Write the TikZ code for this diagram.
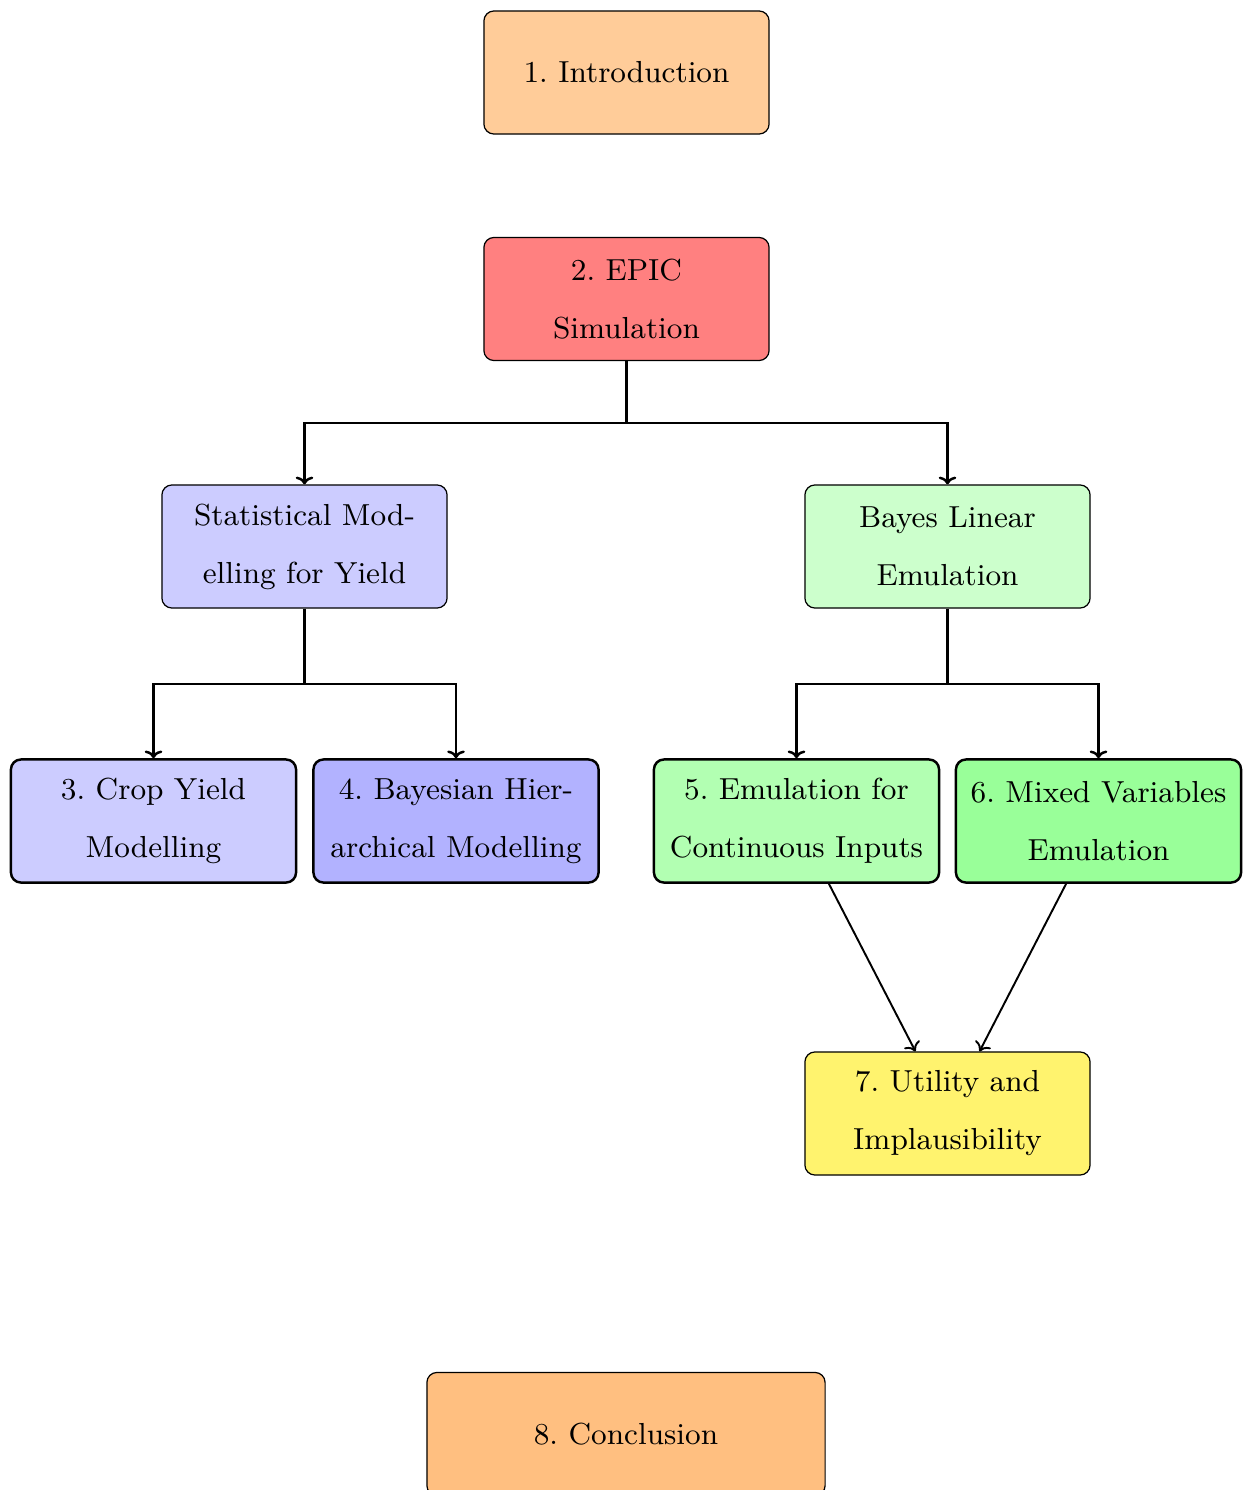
\documentclass[tikz,border=0pt]{standalone}
\usetikzlibrary{arrows.meta}
\definecolor{utilyellow}{RGB}{255,243,110}
\begin{document}
\frenchspacing
\begin{tikzpicture}[x=0.01cm,y=0.01cm,
  box/.style={draw, rounded corners=0.1cm, minimum width=2.85cm, minimum height=1.23cm,
    align=center, inner sep=2pt, font=\fontsize{8.65}{16.5}\selectfont\frenchspacing, line width=0.35pt},
  boxthick/.style={box, line width=0.7pt},
  conn/.style={line width=0.7pt, -{To[length=2.2pt,width=5pt]}},
  connthin/.style={line width=0.55pt, -{To[length=2.4pt,width=5pt]}}]
\useasboundingbox (0,0) rectangle (1248,-1490);
\node[box, fill=orange!40] (n1) at (626.5,-72.5) {1. Introduction};
\node[box, fill=red!50] (n2) at (626.5,-299) {2. EPIC\\Simulation};
\node[box, fill=blue!20] (stat) at (304.5,-546.5) {Statistical Mod-\\elling for Yield};
\node[box, fill=green!20] (bayes) at (947.5,-546.5) {Bayes Linear\\Emulation};
\node[boxthick, fill=blue!20] (n3) at (153.5,-821) {3. Crop Yield\\Modelling};
\node[boxthick, fill=blue!30] (n4) at (456,-821) {4. Bayesian Hier-\\archical Modelling};
\node[boxthick, fill=green!30] (n5) at (796.5,-821) {5. Emulation for\\Continuous Inputs};
\node[boxthick, fill=green!40] (n6) at (1098.5,-821) {6. Mixed Variables\\Emulation};
\node[box, fill=utilyellow] (n7) at (947.5,-1113.5) {7. Utility and\\Implausibility};
\node[box, fill=orange!50, minimum width=3.98cm] (n8) at (626,-1434) {8. Conclusion};
\coordinate (j1) at (626.5,-423);
\coordinate (j2) at (304.5,-684);
\coordinate (j3) at (947.5,-684);
\draw[line width=0.7pt] (n2.south) -- (j1);
\draw[conn] (j1) -| (stat.north);
\draw[conn] (j1) -| (bayes.north);
\draw[line width=0.7pt] (stat.south) -- (j2);
\draw[conn] (j2) -| (n3.north);
\draw[conn] (j2) -| (n4.north);
\draw[line width=0.7pt] (bayes.south) -- (j3);
\draw[conn] (j3) -| (n5.north);
\draw[conn] (j3) -| (n6.north);
\draw[connthin] (n5) -- (n7);
\draw[connthin] (n6) -- (n7);
\end{tikzpicture}
\end{document}
